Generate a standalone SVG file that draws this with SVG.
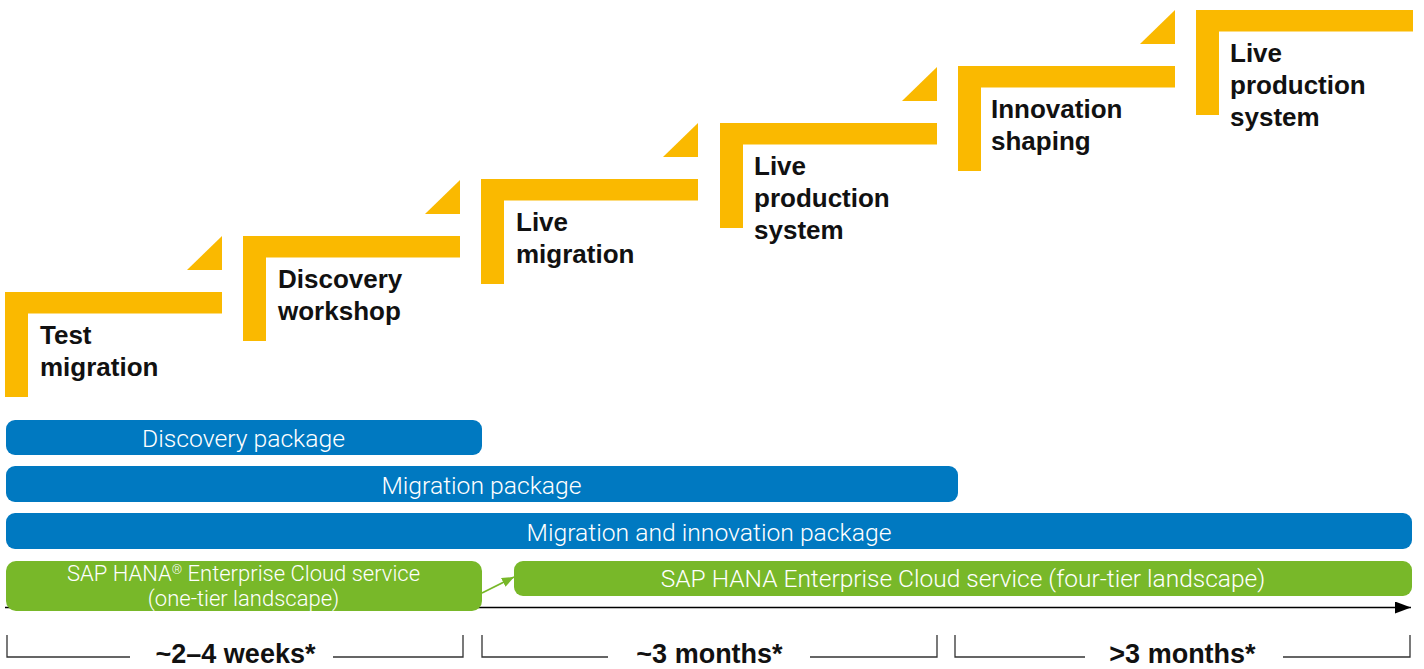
<svg xmlns="http://www.w3.org/2000/svg" width="1424" height="669" viewBox="0 0 1424 669">
<style>
.step{fill:#FAB900}
.lbl{font-family:"Liberation Sans",Arial,sans-serif;font-weight:bold;font-size:26px;fill:#111}
.blue{fill:#0079C1}
.green{fill:#78B829}
.wt{font-family:Roboto,"Liberation Sans",sans-serif;font-weight:300;fill:#fff;text-anchor:middle}
.br{fill:none;stroke:#333;stroke-width:1.3}
.dur{font-family:"Liberation Sans",Arial,sans-serif;font-weight:bold;font-size:27px;fill:#111;text-anchor:middle}
</style>
<defs>
<marker id="blk" viewBox="0 0 16 12" refX="16" refY="6" markerWidth="16" markerHeight="12" markerUnits="userSpaceOnUse" orient="auto">
<path d="M0,0 L16,6 L0,12 Z" fill="#000"/>
</marker>
<marker id="grn" viewBox="0 0 12 10" refX="12" refY="5" markerWidth="12" markerHeight="10" markerUnits="userSpaceOnUse" orient="auto">
<path d="M0,0 L12,5 L0,10 Z" fill="#78B829"/>
</marker>
<g id="stepShape">
<rect x="0" y="0" width="217" height="21.5"/>
<rect x="0" y="0" width="23" height="105"/>
</g>
</defs>

<g id="connectors">
<line x1="5" y1="607.5" x2="1411" y2="607.5" stroke="#000" stroke-width="1.5" marker-end="url(#blk)"/>
</g>

<g id="step1" transform="translate(5,292)">
<use href="#stepShape" class="step"/>
<polygon class="step" points="182,-22 217,-56 217,-22"/>
<text class="lbl" x="35" y="52">Test</text>
<text class="lbl" x="35" y="84">migration</text>
</g>
<g id="step2" transform="translate(243,236)">
<use href="#stepShape" class="step"/>
<polygon class="step" points="182,-22 217,-56 217,-22"/>
<text class="lbl" x="35" y="52">Discovery</text>
<text class="lbl" x="35" y="84">workshop</text>
</g>
<g id="step3" transform="translate(481,179)">
<use href="#stepShape" class="step"/>
<polygon class="step" points="182,-22 217,-56 217,-22"/>
<text class="lbl" x="35" y="52">Live</text>
<text class="lbl" x="35" y="84">migration</text>
</g>
<g id="step4" transform="translate(720,123)">
<use href="#stepShape" class="step"/>
<polygon class="step" points="182,-22 217,-56 217,-22"/>
<text class="lbl" x="34" y="52">Live</text>
<text class="lbl" x="34" y="84">production</text>
<text class="lbl" x="34" y="116">system</text>
</g>
<g id="step5" transform="translate(958,66)">
<use href="#stepShape" class="step"/>
<polygon class="step" points="182,-22 217,-56 217,-22"/>
<text class="lbl" x="33" y="52">Innovation</text>
<text class="lbl" x="33" y="84">shaping</text>
</g>
<g id="step6" transform="translate(1196,10)">
<use href="#stepShape" class="step"/>
<text class="lbl" x="34" y="52">Live</text>
<text class="lbl" x="34" y="84">production</text>
<text class="lbl" x="34" y="116">system</text>
</g>

<g id="discovery-package">
<rect class="blue" x="6" y="420" width="476" height="35" rx="9"/>
<text class="wt" x="243.5" y="446.5" font-size="24.7">Discovery package</text>
</g>
<g id="migration-package">
<rect class="blue" x="6" y="466" width="952" height="36" rx="9"/>
<text class="wt" x="481.5" y="493.5" font-size="24.7">Migration package</text>
</g>
<g id="migration-innovation-package">
<rect class="blue" x="6" y="513" width="1406" height="36" rx="9"/>
<text class="wt" x="709" y="540.5" font-size="24.7">Migration and innovation package</text>
</g>

<g id="hec-one-tier">
<rect class="green" x="6" y="561" width="476" height="50" rx="10"/>
<text class="wt" x="243.5" y="580.5" font-size="22">SAP HANA<tspan font-size="13" baseline-shift="super">®</tspan> Enterprise Cloud service</text>
<text class="wt" x="243.5" y="605.5" font-size="22">(one-tier landscape)</text>
</g>
<g id="hec-four-tier">
<rect class="green" x="514" y="561" width="898" height="35" rx="9"/>
<text class="wt" x="963" y="587" font-size="24.5">SAP HANA Enterprise Cloud service (four-tier landscape)</text>
</g>

<g id="connectors-green">
<line x1="482" y1="593" x2="514" y2="577" stroke="#78B829" stroke-width="1.6" marker-end="url(#grn)"/>
</g>

<g id="duration1">
<polyline class="br" points="130,657 7,657 7,635"/>
<polyline class="br" points="333,657 463,657 463,635"/>
<text class="dur" x="235.5" y="663">~2–4 weeks*</text>
</g>
<g id="duration2">
<polyline class="br" points="608,657 482,657 482,635"/>
<polyline class="br" points="810,657 937,657 937,635"/>
<text class="dur" x="709.5" y="663">~3 months*</text>
</g>
<g id="duration3">
<polyline class="br" points="1085,657 955,657 955,635"/>
<polyline class="br" points="1283,657 1410,657 1410,635"/>
<text class="dur" x="1182.5" y="663">&gt;3 months*</text>
</g>
</svg>
